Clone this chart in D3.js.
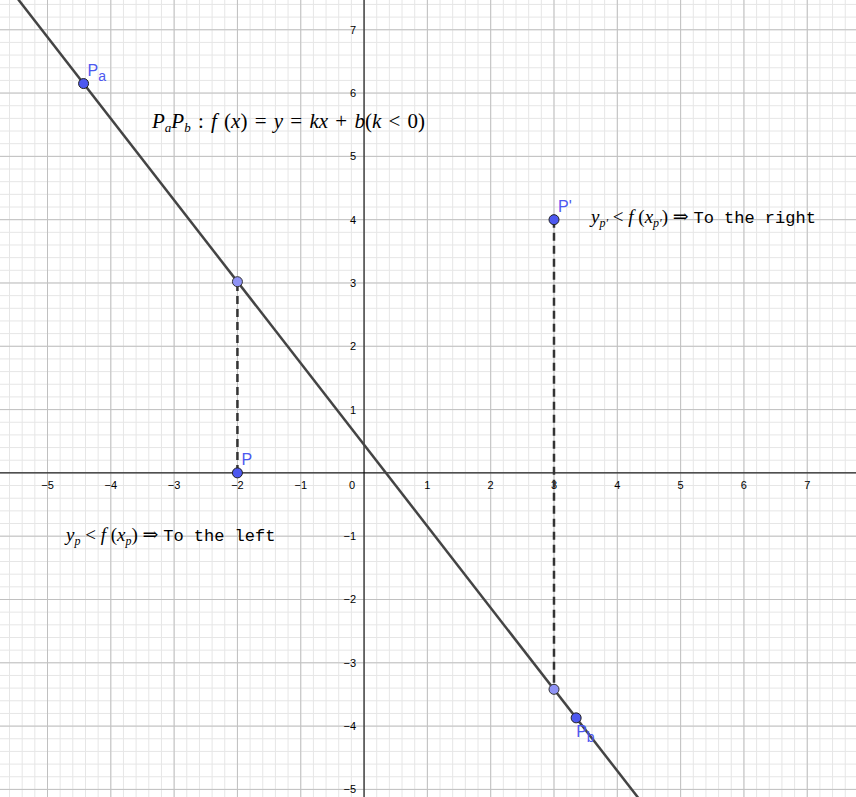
<!DOCTYPE html>
<html><head><meta charset="utf-8">
<script src="https://cdn.jsdelivr.net/npm/d3@7"></script>
<style>
body { margin:0; background:#fff; }
text { font-family: "Liberation Sans", Arial, sans-serif; }
.m { font-family: "Liberation Serif", "DejaVu Serif", serif; font-style: italic; }
.r { font-family: "Liberation Serif", "DejaVu Serif", serif; font-style: normal; }
.tt { font-family: "Liberation Mono", "DejaVu Sans Mono", monospace; font-style: normal; }
</style></head>
<body><div id="chart"></div>
<script>
var W = 856, H = 797;
var xTicks = [-5, -4, -3, -2, -1, 0, 1, 2, 3, 4, 5, 6, 7];
var yTicks = [-5, -4, -3, -2, -1, 1, 2, 3, 4, 5, 6, 7];
var pointNames = ["Pa", "Pb", "P", "P'"];
var pointX = [-4.43, 3.35, -2, 3];
var pointY = [6.15, -3.87, 0, 4];
var footX = [-2, 3];

var x = d3.scaleLinear().domain([-5.75, 7.77]).range([0, W]);
var y = d3.scaleLinear().domain([7.47, -5.12]).range([0, H]);

var slope = (pointY[1] - pointY[0]) / (pointX[1] - pointX[0]);
var f = function(v) { return pointY[0] + slope * (v - pointX[0]); };

var svg = d3.select("#chart").append("svg").attr("width", W).attr("height", H);

// minor grid
var minor = d3.range(-30, 40).map(function(i) { return i / 5; });
svg.append("g").selectAll("line").data(minor.filter(function(v) { return v > -5.8 && v < 7.8; }))
	.enter().append("line")
	.attr("x1", function(d) { return x(d); }).attr("x2", function(d) { return x(d); })
	.attr("y1", 0).attr("y2", H).attr("stroke", "#e6e6e6").attr("stroke-width", 1);
svg.append("g").selectAll("line").data(minor.filter(function(v) { return v > -5.2 && v < 7.5; }))
	.enter().append("line")
	.attr("y1", function(d) { return y(d); }).attr("y2", function(d) { return y(d); })
	.attr("x1", 0).attr("x2", W).attr("stroke", "#e6e6e6").attr("stroke-width", 1);

// major grid
svg.append("g").selectAll("line").data(d3.range(-5, 8))
	.enter().append("line")
	.attr("x1", function(d) { return x(d); }).attr("x2", function(d) { return x(d); })
	.attr("y1", 0).attr("y2", H).attr("stroke", "#c0c0c0").attr("stroke-width", 1);
svg.append("g").selectAll("line").data(d3.range(-5, 8))
	.enter().append("line")
	.attr("y1", function(d) { return y(d); }).attr("y2", function(d) { return y(d); })
	.attr("x1", 0).attr("x2", W).attr("stroke", "#c0c0c0").attr("stroke-width", 1);

// axes
svg.append("line").attr("x1", 0).attr("x2", W).attr("y1", y(0)).attr("y2", y(0)).attr("stroke", "#000");
svg.append("line").attr("x1", x(0)).attr("x2", x(0)).attr("y1", 0).attr("y2", H).attr("stroke", "#000");

svg.append("g").selectAll("text").data(xTicks).enter().append("text")
	.attr("x", function(d) { return d === 0 ? x(0) - 12 : x(d); })
	.attr("y", y(0) + 16).attr("text-anchor", "middle").attr("font-size", 11)
	.text(function(d) { return d < 0 ? "\u2212" + (-d) : d; });
svg.append("g").selectAll("text").data(yTicks).enter().append("text")
	.attr("x", x(0) - 8).attr("y", function(d) { return y(d) + 4; })
	.attr("text-anchor", "end").attr("font-size", 11)
	.text(function(d) { return d < 0 ? "\u2212" + (-d) : d; });

// line
svg.append("line")
	.attr("x1", x(-6)).attr("y1", y(f(-6))).attr("x2", x(8)).attr("y2", y(f(8)))
	.attr("stroke", "#444").attr("stroke-width", 2.5);

// dashed verticals
svg.append("g").selectAll("line").data(footX).enter().append("line")
	.attr("x1", function(d) { return x(d); }).attr("x2", function(d) { return x(d); })
	.attr("y1", function(d, i) { return y(pointY[2 + i]); }).attr("y2", function(d) { return y(f(d)); })
	.attr("stroke", "#333").attr("stroke-width", 2.5).attr("stroke-dasharray", "8,5");

// foot points on line
svg.append("g").selectAll("circle").data(footX).enter().append("circle")
	.attr("cx", function(d) { return x(d); }).attr("cy", function(d) { return y(f(d)); })
	.attr("r", 5).attr("fill", "#8f93f5").attr("stroke", "#333").attr("stroke-width", 1);

// named points
svg.append("g").selectAll("circle").data(pointNames).enter().append("circle")
	.attr("cx", function(d, i) { return x(pointX[i]); }).attr("cy", function(d, i) { return y(pointY[i]); })
	.attr("r", 5).attr("fill", "#4d58f0").attr("stroke", "#222").attr("stroke-width", 1);

var lab = svg.append("g").attr("fill", "#4d58f0").attr("font-size", 16);
pointNames.forEach(function(n, i) {
	var t = lab.append("text").attr("x", x(pointX[i]) + 4).attr("y", y(pointY[i]) - 8);
	if (n === "Pb") t.attr("x", x(pointX[i])).attr("y", y(pointY[i]) + 19);
	t.append("tspan").text("P");
	if (n.length > 1 && n[1] !== "'") t.append("tspan").attr("dy", 5).attr("font-size", 14).text(n[1] === "a" ? "a" : "b");
	if (n[1] === "'") t.append("tspan").text("'");
});

// formula
var t1 = svg.append("text").attr("x", 152).attr("y", 128).attr("font-size", 21).attr("class", "m")
	.attr("word-spacing", 2);
t1.append("tspan").text("P");
t1.append("tspan").attr("dy", 4).attr("font-size", 13).text("a");
t1.append("tspan").attr("dy", -4).text("P");
t1.append("tspan").attr("dy", 4).attr("font-size", 13).text("b");
t1.append("tspan").attr("dy", -4).attr("class", "r").text(" : ");
t1.append("tspan").text("f");
t1.append("tspan").attr("class", "r").text(" (");
t1.append("tspan").text("x");
t1.append("tspan").attr("class", "r").text(") = ");
t1.append("tspan").text("y");
t1.append("tspan").attr("class", "r").text(" = ");
t1.append("tspan").text("kx");
t1.append("tspan").attr("class", "r").text(" + ");
t1.append("tspan").text("b");
t1.append("tspan").attr("class", "r").text("(");
t1.append("tspan").text("k");
t1.append("tspan").attr("class", "r").text(" < 0)");

var t2 = svg.append("text").attr("x", 591).attr("y", 223).attr("font-size", 19).attr("class", "m");
t2.append("tspan").text("y");
t2.append("tspan").attr("dy", 4).attr("font-size", 12).text("p\u2032");
t2.append("tspan").attr("dy", -4).attr("class", "r").text(" < ");
t2.append("tspan").text("f");
t2.append("tspan").attr("class", "r").text(" (");
t2.append("tspan").text("x");
t2.append("tspan").attr("dy", 4).attr("font-size", 12).text("p\u2032");
t2.append("tspan").attr("dy", -4).attr("class", "r").text(") \u21d2 ");
t2.append("tspan").attr("class", "tt").attr("font-size", 17).text("To the right");

var t3 = svg.append("text").attr("x", 66).attr("y", 541).attr("font-size", 19).attr("class", "m");
t3.append("tspan").text("y");
t3.append("tspan").attr("dy", 4).attr("font-size", 12).text("p");
t3.append("tspan").attr("dy", -4).attr("class", "r").text(" < ");
t3.append("tspan").text("f");
t3.append("tspan").attr("class", "r").text(" (");
t3.append("tspan").text("x");
t3.append("tspan").attr("dy", 4).attr("font-size", 12).text("p");
t3.append("tspan").attr("dy", -4).attr("class", "r").text(") \u21d2 ");
t3.append("tspan").attr("class", "tt").attr("font-size", 17).text("To the left");
</script></body></html>
